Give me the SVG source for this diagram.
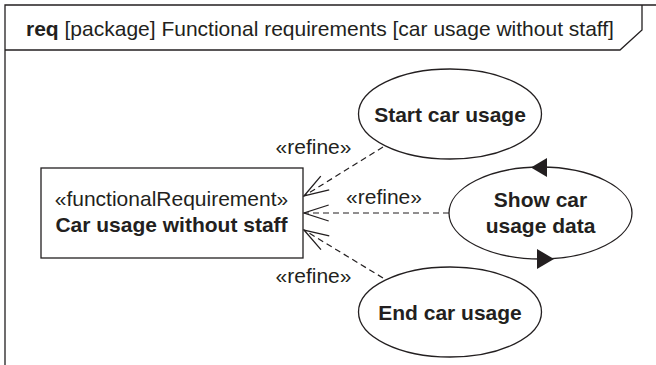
<svg xmlns="http://www.w3.org/2000/svg" width="656" height="365" viewBox="0 0 656 365">
  <style>
    .t { font-family: "Liberation Sans", Arial, sans-serif; fill: #231f20; font-size: 21px; }
    .b { font-weight: bold; }
    .shape { fill: #ffffff; stroke: #231f20; stroke-width: 1.3; }
    .frame { fill: none; stroke: #231f20; stroke-width: 1.3; }
    .dep { fill: none; stroke: #231f20; stroke-width: 1.2; stroke-dasharray: 6 4; }
  </style>
  <defs>
    <marker id="open" markerUnits="userSpaceOnUse" markerWidth="40" markerHeight="30" viewBox="-30 -15 40 30" refX="0" refY="0" orient="auto">
      <path d="M -24.7 -8 L 0 0 L -24.7 8" fill="none" stroke="#231f20" stroke-width="1.3" stroke-dasharray="none"/>
    </marker>
  </defs>
  <rect width="656" height="365" fill="#ffffff"/>

  <g id="frame">
    <path class="frame" d="M 5 365 L 5 5 L 656 5"/>
    <path class="frame" d="M 5 50 L 620 50 L 642 30 L 642 5"/>
    <text class="t" x="26" y="36"><tspan class="b">req</tspan> [package] Functional requirements [car usage without staff]</text>
  </g>

  <g id="connectors">
    <line class="dep" x1="383" y1="147" x2="304" y2="196" marker-end="url(#open)"/>
    <line class="dep" x1="449" y1="213" x2="304" y2="213" marker-end="url(#open)"/>
    <line class="dep" x1="383" y1="278" x2="304" y2="230" marker-end="url(#open)"/>
    <text class="t" x="313.5" y="154" text-anchor="middle">«refine»</text>
    <text class="t" x="384" y="204" text-anchor="middle">«refine»</text>
    <text class="t" x="313.5" y="283" text-anchor="middle">«refine»</text>
  </g>

  <g id="req">
    <rect class="shape" x="41" y="168" width="262" height="90"/>
    <text class="t" x="171.5" y="206" text-anchor="middle">«functionalRequirement»</text>
    <text class="t b" x="171.5" y="232" text-anchor="middle">Car usage without staff</text>
  </g>

  <g id="start">
    <ellipse class="shape" cx="450" cy="114" rx="91.5" ry="45"/>
    <text class="t b" x="450" y="122" text-anchor="middle">Start car usage</text>
  </g>

  <g id="show">
    <ellipse class="shape" cx="540.5" cy="213" rx="91.5" ry="46"/>
    <path d="M 531 167.5 L 547 158 L 547 177 Z" fill="#231f20"/>
    <path d="M 554 259 L 537 249 L 537 269 Z" fill="#231f20"/>
    <text class="t b" x="540.5" y="207" text-anchor="middle">Show car</text>
    <text class="t b" x="540.5" y="233" text-anchor="middle">usage data</text>
  </g>

  <g id="end">
    <ellipse class="shape" cx="450" cy="312" rx="91.5" ry="45"/>
    <text class="t b" x="450" y="320" text-anchor="middle">End car usage</text>
  </g>
</svg>
